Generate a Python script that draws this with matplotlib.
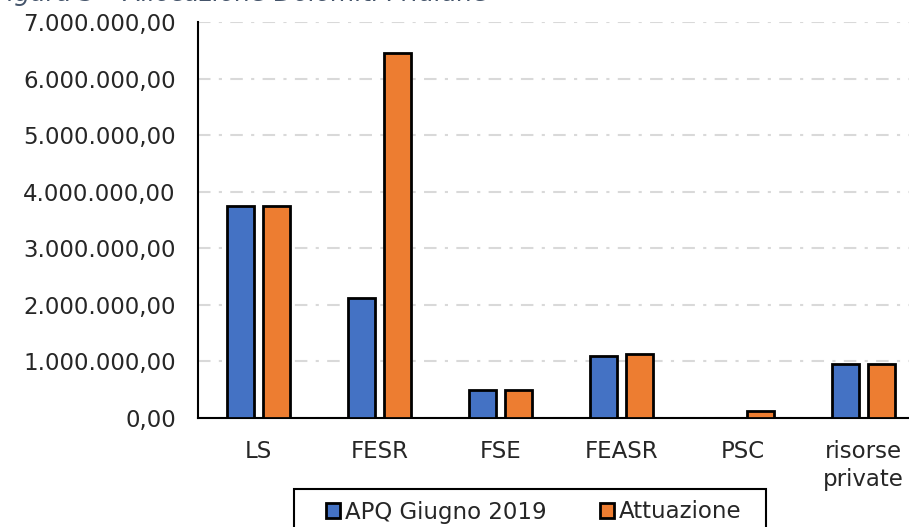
import matplotlib.pyplot as plt
import numpy as np
from matplotlib.ticker import FuncFormatter
from matplotlib.patches import Rectangle

categories = ['LS', 'FESR', 'FSE', 'FEASR', 'PSC', 'risorse\nprivate']
apq_2019 = [3750000, 2120000, 490000, 1100000, 0, 950000]
attuazione = [3750000, 6450000, 490000, 1130000, 120000, 950000]
series_names = ['APQ Giugno 2019', 'Attuazione']

blue = '#4472C4'
orange = '#ED7D31'
fs = 16.5
W, H = 909, 527


def it_format(v, pos):
    # italian style: 1.000.000,00
    s = f'{v:,.2f}'
    return s.replace(',', 'X').replace('.', ',').replace('X', '.')


fig = plt.figure(figsize=(W / 100, H / 100), dpi=100)
ax = fig.add_axes([198 / W, 109 / H, 726 / W, 396 / H])

x = np.arange(len(categories))
w = 0.225
off = 0.147
ax.bar(x - off, apq_2019, w, color=blue, edgecolor='black', linewidth=2,
       label=series_names[0], zorder=3)
ax.bar(x + off, attuazione, w, color=orange, edgecolor='black', linewidth=2,
       label=series_names[1], zorder=3)

ax.set_xlim(-0.5, len(categories) - 0.5)
ax.set_ylim(0, 7000000)
ax.set_yticks(np.arange(0, 7000001, 1000000))
ax.yaxis.set_major_formatter(FuncFormatter(it_format))
ax.set_xticks(x)
ax.set_xticklabels(categories, fontsize=fs, color='#262626', linespacing=1.25)
ax.tick_params(axis='y', labelsize=fs, labelcolor='#262626', length=0, pad=16)
ax.tick_params(axis='x', length=0, pad=16)

ax.yaxis.grid(True, color='#D9D9D9', linewidth=1.5, linestyle=(0, (6, 4, 1.5, 4)))
ax.set_axisbelow(True)
for s in ['top', 'right']:
    ax.spines[s].set_visible(False)
ax.spines['left'].set_linewidth(1.5)
ax.spines['bottom'].set_linewidth(1.5)

# title, clipped at the top edge like the source image
fig.text(-0.008, 1 - 1 / H, 'Figura 5 \u2013 Allocazione Dolomiti Friulane',
         fontsize=18, style='italic', color='#44546A', va='baseline', ha='left')

# legend without its own frame, box drawn separately (runs off the bottom edge)
leg = fig.legend(loc='center left', bbox_to_anchor=(326 / W, 1 - 512 / H),
                 ncol=2, fontsize=fs, frameon=False,
                 handlelength=0.6, handleheight=0.6, handletextpad=0.25,
                 columnspacing=2.3, borderpad=0, borderaxespad=0)
for t in leg.get_texts():
    t.set_color('#262626')
for h in leg.legend_handles:
    h.set_linewidth(2)
fig.patches.append(Rectangle((294 / W, -0.05), (766 - 294) / W, 0.05 + (H - 489) / H,
                             transform=fig.transFigure, fill=False,
                             edgecolor='black', linewidth=1.5))

fig.savefig('out.png', dpi=100)
